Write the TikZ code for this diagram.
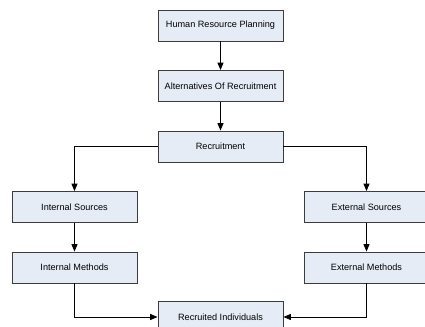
\documentclass[tikz,border=0pt]{standalone}
\usepackage{fontspec}
\setmainfont{Liberation Sans}
\usepackage{tikz}
\usetikzlibrary{arrows.meta,positioning}

\definecolor{boxfill}{RGB}{230,236,246}
\definecolor{boxline}{RGB}{60,60,60}

\begin{document}
\begin{tikzpicture}[
  x=0.75pt, y=-0.75pt,
  font=\fontsize{6.85}{8}\selectfont,
  stage/.style={draw=boxline, fill=boxfill, line width=0.7pt,
    minimum width=125*0.75pt, minimum height=31*0.75pt,
    inner sep=0pt, anchor=center},
  link/.style={draw=black, line width=0.6pt,
    -{Triangle[length=5.5pt, width=4.5pt]}},
]
  % Page: 425 x 326 px, 0 at top
  \useasboundingbox (0,0) rectangle (425,326);

  % Main column
  \node[stage] (hrp) at (220.5,25.5) {Human Resource Planning};
  \node[stage] (alt) at (220.5,86) {Alternatives Of Recruitment};
  \node[stage] (rec) at (220.5,146.5) {Recruitment};

  % Two branches
  \node[stage] (insrc) at (74.5,207) {Internal Sources};
  \node[stage] (inmet) at (74.5,267.5) {Internal Methods};
  \node[stage] (exsrc) at (366.5,207) {External Sources};
  \node[stage] (exmet) at (366.5,267.5) {External Methods};

  % Result
  \node[stage] (ind) at (220.5,317) {Recruited Individuals};

  % Connectors
  \draw[link] (hrp) -- (alt);
  \draw[link] (alt) -- (rec);
  \draw[link] (rec.west) -| (insrc.north);
  \draw[link] (rec.east) -| (exsrc.north);
  \draw[link] (insrc) -- (inmet);
  \draw[link] (exsrc) -- (exmet);
  \draw[link] (inmet.south) |- (ind.west);
  \draw[link] (exmet.south) |- (ind.east);

\end{tikzpicture}
\end{document}
